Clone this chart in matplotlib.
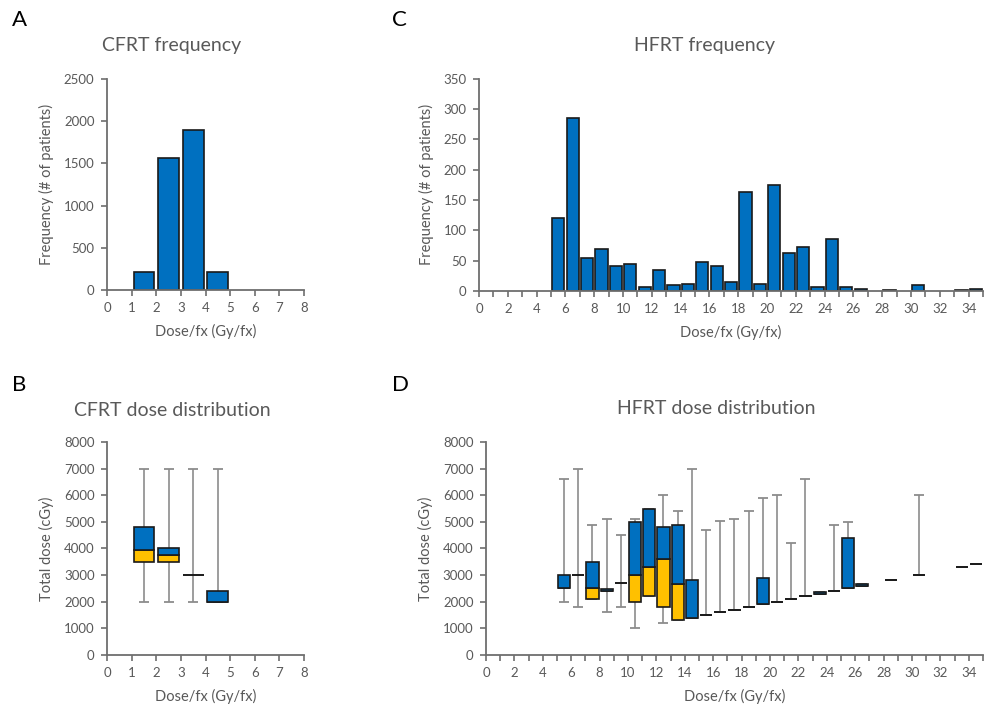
import numpy as np
import matplotlib
matplotlib.use("Agg")
import matplotlib.pyplot as plt

plt.rcParams["font.family"] = ["Lato", "DejaVu Sans"]

BLUE = "#0070C0"
YELLOW = "#FFC000"
GRAY_TXT = "#595959"
AXIS = "#6e6e6e"
WHISK = "#8c8c8c"

# CFRT frequency (bins start at dose/fx)
cfrt_bins = [1, 2, 3, 4]
cfrt_freq = [210, 1560, 1900, 210]

# HFRT frequency
hfrt_bins = list(range(5, 35))
hfrt_freq = [120, 285, 55, 70, 42, 45, 7, 35, 10, 12, 47, 42, 15, 163, 12,
             175, 63, 72, 7, 85, 6, 3, 0, 1.5, 0, 10, 0, 0, 2, 3]

# CFRT dose distribution (cGy)
cfrt_min = [2000, 2000, 2000, 2000]
cfrt_q1 = [3500, 3500, 3000, 2000]
cfrt_med = [3950, 3750, 3000, 2000]
cfrt_q3 = [4800, 4000, 3000, 2400]
cfrt_max = [7000, 7000, 7000, 7000]

# HFRT dose distribution (cGy), bins with data only
hfrt_box_bins = [5, 6, 7, 8, 9, 10, 11, 12, 13, 14, 15, 16, 17, 18, 19, 20,
                 21, 22, 23, 24, 25, 26, 28, 30, 33, 34]
hfrt_min = [2000, 1800, 2100, 1600, 1800, 1000, 2200, 1200, 1300, 1400, 1500,
            1600, 1700, 1800, 1900, 2000, 2100, 2200, 2300, 2400, 2500, 2600,
            2800, 3000, 3300, 3400]
hfrt_q1 = [2500, 3000, 2100, 2400, 2700, 2000, 2200, 1800, 1330, 1400, 1500,
           1600, 1700, 1800, 1900, 2000, 2100, 2200, 2300, 2400, 2500, 2600,
           2800, 3000, 3300, 3400]
hfrt_med = [2500, 3000, 2500, 2400, 2700, 3000, 3300, 3600, 2650, 1400, 1500,
            1600, 1700, 1800, 1900, 2000, 2100, 2200, 2300, 2400, 2500, 2600,
            2800, 3000, 3300, 3400]
hfrt_q3 = [3000, 3000, 3500, 2480, 2700, 5000, 5500, 4800, 4900, 2800, 1500,
           1600, 1700, 1800, 2900, 2000, 2100, 2200, 2370, 2400, 4400, 2650,
           2800, 3000, 3300, 3400]
hfrt_max = [6600, 7000, 4900, 5100, 4500, 5100, 5500, 6000, 5400, 7000, 4700,
            5050, 5100, 5400, 5900, 6000, 4200, 6600, 2370, 4900, 5000, 2650,
            2800, 6000, 3300, 3400]


def style_axes(ax, xmax, ymax, ystep, xlabel, ylabel, label_every=1):
    for s in ["top", "right"]:
        ax.spines[s].set_visible(False)
    for s in ["left", "bottom"]:
        ax.spines[s].set_color(AXIS)
        ax.spines[s].set_linewidth(1.3)
    ax.set_xlim(0, xmax)
    ax.set_ylim(0, ymax)
    ax.set_xticks(np.arange(0, xmax + 1, 1))
    ax.set_xticklabels([str(v) if v % label_every == 0 and v < xmax or (label_every == 1) else ""
                        for v in range(0, xmax + 1)])
    ax.set_yticks(np.arange(0, ymax + 1, ystep))
    ax.tick_params(colors=AXIS, labelcolor=GRAY_TXT, labelsize=9.5, length=4,
                   width=1.2, direction="out", pad=5)
    ax.set_xlabel(xlabel, color=GRAY_TXT, fontsize=10.5, labelpad=7)
    ax.set_ylabel(ylabel, color=GRAY_TXT, fontsize=10.5, labelpad=7)


def draw_boxes(ax, bins, vmin, q1, med, q3, vmax, width):
    x = np.array(bins) + 0.5
    vmin, q1, med, q3, vmax = map(np.array, (vmin, q1, med, q3, vmax))
    ax.errorbar(x, med, yerr=[med - vmin, vmax - med], fmt="none",
                ecolor=WHISK, elinewidth=1.2, capsize=3.5, capthick=1.3, zorder=1)
    ax.bar(x, med - q1, bottom=q1, width=width, color=YELLOW,
           edgecolor="#1a1a1a", linewidth=1.2, zorder=2)
    ax.bar(x, q3 - med, bottom=med, width=width, color=BLUE,
           edgecolor="#1a1a1a", linewidth=1.2, zorder=3)


fig = plt.figure(figsize=(9.91, 7.09), dpi=100)

axA = fig.add_axes([0.108, 0.591, 0.1988, 0.2976])
axC = fig.add_axes([0.4834, 0.5896, 0.5086, 0.2994])
axB = fig.add_axes([0.108, 0.0762, 0.1988, 0.3004])
axD = fig.add_axes([0.4904, 0.0762, 0.5015, 0.3004])

# A
axA.bar(np.array(cfrt_bins) + 0.5, cfrt_freq, width=0.85, color=BLUE,
        edgecolor="#1a1a1a", linewidth=1.2, zorder=2)
style_axes(axA, 8, 2500, 500, "Dose/fx (Gy/fx)", "Frequency (# of patients)")

# C
hb = np.array(hfrt_bins)
hf = np.array(hfrt_freq, dtype=float)
keep = hf > 0
axC.bar(hb[keep] + 0.5, hf[keep], width=0.85, color=BLUE,
        edgecolor="#1a1a1a", linewidth=1.2, zorder=2)
style_axes(axC, 35, 350, 50, "Dose/fx (Gy/fx)", "Frequency (# of patients)", label_every=2)

# B
draw_boxes(axB, cfrt_bins, cfrt_min, cfrt_q1, cfrt_med, cfrt_q3, cfrt_max, 0.85)
style_axes(axB, 8, 8000, 1000, "Dose/fx (Gy/fx)", "Total dose (cGy)")

# D
draw_boxes(axD, hfrt_box_bins, hfrt_min, hfrt_q1, hfrt_med, hfrt_q3, hfrt_max, 0.85)
style_axes(axD, 35, 8000, 1000, "Dose/fx (Gy/fx)", "Total dose (cGy)", label_every=2)

# titles and panel letters
W, H = 991, 709
titles = [("CFRT frequency", 172, 45), ("HFRT frequency", 705, 45),
          ("CFRT dose distribution", 172, 411), ("HFRT dose distribution", 716, 409)]
for t, x, y in titles:
    fig.text(x / W, 1 - y / H, t, ha="center", va="center", fontsize=14, color=GRAY_TXT)
letters = [("A", 12, 20), ("C", 392, 20), ("B", 12, 385), ("D", 392, 385)]
for t, x, y in letters:
    fig.text(x / W, 1 - y / H, t, ha="left", va="center", fontsize=16, color="black")

fig.savefig("out.png", dpi=100)
plt.close(fig)
